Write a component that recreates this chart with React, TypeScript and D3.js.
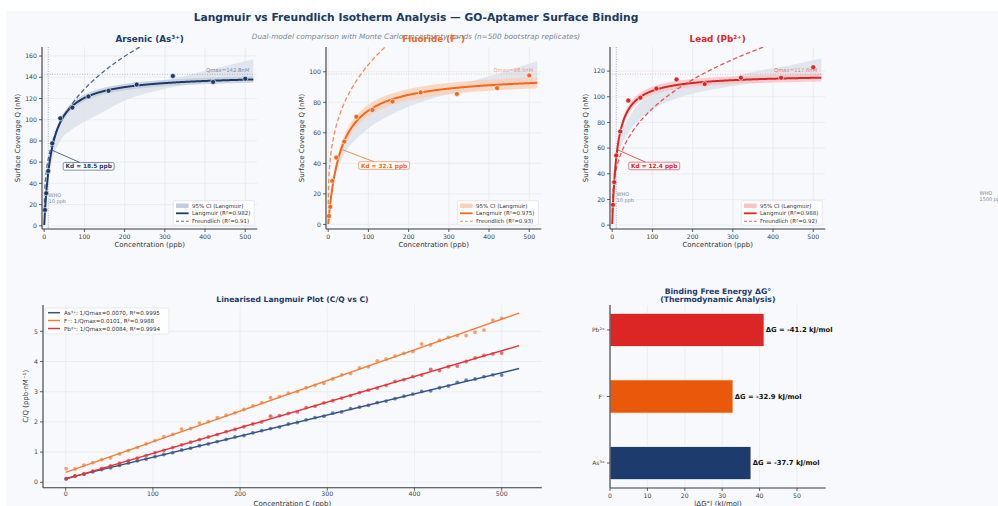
import React from 'react';
import * as d3 from 'd3';

const W = 998;
const H = 506;
const FONT = '"DejaVu Sans", sans-serif';

// ---------- Isotherm data (top row) ----------
const panelTitles = ['Arsenic (As³⁺)', 'Fluoride (F⁻)', 'Lead (Pb²⁺)'];
const ionLabels = ['As³⁺', 'F⁻', 'Pb²⁺'];
const isoC = [2, 5, 10, 20, 40, 70, 110, 160, 230, 320, 420, 500];
const qAs = [15.0, 30.7, 51.7, 77.7, 101.3, 111.4, 121.9, 127.2, 133.1, 141.2, 135.6, 138.6];
const qF = [5.5, 11.5, 28.5, 43.8, 54.3, 70.5, 75.0, 80.5, 86.5, 85.5, 89.3, 97.6];
const qPb = [15.8, 33.5, 54.3, 73.0, 97.1, 99.3, 106.4, 113.5, 109.9, 114.8, 114.8, 123.0];
const isoQ = [qAs, qF, qPb];
const qmax = [142.8, 98.5, 117.6];
const kd = [18.5, 32.1, 12.4];
const kf = [30.9, 26.3, 20.8];
const nInv = [0.31, 0.30, 0.32];
const ciFrac = [0.02, 0.035, 0.025];
const r2Lang = ['0.982', '0.975', '0.988'];
const r2Freu = ['0.91', '0.93', '0.92'];
const whoLimit = [10, 1500, 10];
const whoText = ['10 ppb', '1500 ppb', '10 ppb'];

// Monte Carlo (grey) envelopes
const mcC = [
  [10, 20, 40, 70, 100, 150, 200, 300, 400, 520],
  [15, 20, 40, 70, 100, 150, 240, 360, 450, 520],
  [10, 20, 50, 100, 155, 240, 360, 450, 520],
];
const mcLo = [
  [42, 62, 80, 91, 98, 108, 118, 129, 135, 139.5],
  [30, 34, 46, 56, 63, 71, 81, 88, 91, 93],
  [50, 60, 76, 90, 98, 105, 111, 113, 114],
];
const mcHi = [
  [46, 72, 95, 110, 118, 125, 130, 137, 146, 157],
  [32, 37, 52, 67, 73, 80, 86, 94, 101, 107],
  [56, 68, 88, 102, 107, 111, 120, 125, 130],
];

// ---------- Linearised data (bottom-left) ----------
const linC = [0.5, 10.7, 20.9, 31.1, 41.3, 51.5, 61.7, 71.9, 82.1, 92.2, 102.4, 112.6, 122.8, 133.0, 143.2, 153.4, 163.6, 173.8, 184.0, 194.2, 204.4, 214.6, 224.8, 235.0, 245.2, 255.4, 265.6, 275.7, 285.9, 296.1, 306.3, 316.5, 326.7, 336.9, 347.1, 357.3, 367.5, 377.7, 387.9, 398.1, 408.3, 418.5, 428.7, 438.9, 449.1, 459.3, 469.5, 479.7, 489.9, 500.0];
const linAs = [0.12, 0.21, 0.27, 0.35, 0.42, 0.48, 0.56, 0.64, 0.71, 0.77, 0.85, 0.92, 0.98, 1.07, 1.13, 1.21, 1.27, 1.35, 1.42, 1.50, 1.55, 1.64, 1.71, 1.78, 1.83, 1.93, 1.98, 2.07, 2.14, 2.19, 2.29, 2.33, 2.44, 2.49, 2.55, 2.64, 2.69, 2.77, 2.85, 2.92, 3.01, 3.03, 3.13, 3.19, 3.31, 3.38, 3.42, 3.50, 3.56, 3.55];
const linF = [0.45, 0.44, 0.57, 0.65, 0.75, 0.81, 0.94, 1.05, 1.15, 1.27, 1.38, 1.51, 1.59, 1.76, 1.78, 1.96, 2.01, 2.14, 2.22, 2.30, 2.41, 2.53, 2.64, 2.80, 2.84, 2.95, 3.00, 3.13, 3.21, 3.28, 3.42, 3.56, 3.60, 3.79, 3.83, 4.02, 4.08, 4.18, 4.27, 4.33, 4.58, 4.55, 4.70, 4.80, 4.86, 4.86, 4.97, 5.04, 5.37, 5.43];
const linPb = [0.11, 0.20, 0.28, 0.37, 0.46, 0.54, 0.63, 0.72, 0.80, 0.88, 0.98, 1.06, 1.15, 1.24, 1.33, 1.41, 1.50, 1.58, 1.68, 1.75, 1.84, 1.93, 2.00, 2.19, 2.21, 2.28, 2.33, 2.47, 2.52, 2.63, 2.70, 2.79, 2.87, 2.97, 3.05, 3.12, 3.21, 3.34, 3.40, 3.50, 3.55, 3.74, 3.70, 3.83, 3.85, 4.00, 4.12, 4.20, 4.25, 4.28];
const linY = [linAs, linF, linPb];
const linSlope = [0.0070, 0.01015, 0.0085];
const linIntercept = [0.1296, 0.326, 0.105];
const linLegend = ['As³⁺: 1/Qmax=0.0070, R²=0.9995', 'F⁻: 1/Qmax=0.0101, R²=0.9988', 'Pb²⁺: 1/Qmax=0.0084, R²=0.9994'];

// ---------- Free energy (bottom-right) ----------
const dG = [-37.7, -32.9, -41.2];

// ---------- styles ----------
const colors = ['#1e3a6b', '#ef6a1f', '#dc2626'];
const linColors = ['#34538a', '#f47e38', '#e23434'];
const ciColors = ['#c3ccda', '#fbd0b6', '#f6c4c4'];
const barColors = ['#1d3b6c', '#ea580c', '#dc2626'];
const BG = '#f7f9fc';
const GRID = '#e3e7ed';
const SPINE = '#3a3a3a';
const TICKC = '#444';

const topLefts = [42, 326, 610];
const TOP_W = 215.3;
const TOP_Y0 = 47;
const TOP_Y1 = 229;
const kdDx = [37, 43, 37];

function IsoPanel({ i }: { i: number }) {
  const left = topLefts[i];
  const right = left + TOP_W;
  const qm = qmax[i];
  const k = kd[i];
  const col = colors[i];
  const x = d3.scaleLinear().domain([-5.5, 530]).range([left, right]);
  const y = d3.scaleLinear().domain([-3, qm * 1.18]).range([TOP_Y1, TOP_Y0]);
  const lang = (c: number, a = qm, b = k) => (a * c) / (b + c);
  const cs = d3.range(0.1, 521, 1);
  const lineL = d3.line<number>().x((c) => x(c)).y((c) => y(lang(c)));
  const lineF = d3.line<number>().x((c) => x(c)).y((c) => y(kf[i] * Math.pow(c, nInv[i])));
  const f = ciFrac[i];
  const ciArea = d3
    .area<number>()
    .x((c) => x(c))
    .y0((c) => y(lang(c, qm * (1 - f), k * (1 + 2 * f))))
    .y1((c) => y(lang(c, qm * (1 + f), k * (1 - 2 * f))));
  const mcIdx = d3.range(mcC[i].length);
  const mcArea = d3
    .area<number>()
    .curve(d3.curveMonotoneX)
    .x((j) => x(mcC[i][j]))
    .y0((j) => y(mcLo[i][j]))
    .y1((j) => y(mcHi[i][j]));
  const xt = d3.range(0, 501, 100);
  const yt = d3.range(0, qm * 1.18, 20);
  const clip = `clip-top-${i}`;
  const px = x(k);
  const py = y(qm / 2);
  const bw = 51;
  const bh = 7.6;
  const cx = px + kdDx[i];
  const cy = py + 16.3;
  const ddx = px - cx;
  const ddy = py - cy;
  const t = Math.min(bw / 2 / Math.abs(ddx), bh / 2 / Math.abs(ddy));
  const sx = cx + ddx * t;
  const sy = cy + ddy * t;
  const lx = right - 84;
  const ly = 200.7;
  const who = whoLimit[i];
  const whoY = y(qm * 0.2);
  return (
    <g>
      <defs>
        <clipPath id={clip}>
          <rect x={left} y={TOP_Y0} width={TOP_W} height={TOP_Y1 - TOP_Y0} />
        </clipPath>
      </defs>
      {xt.map((v) => (
        <line key={'gx' + v} x1={x(v)} x2={x(v)} y1={TOP_Y0} y2={TOP_Y1} stroke={GRID} strokeWidth={0.6} />
      ))}
      {yt.map((v) => (
        <line key={'gy' + v} x1={left} x2={right} y1={y(v)} y2={y(v)} stroke={GRID} strokeWidth={0.6} />
      ))}
      <g clipPath={`url(#${clip})`}>
        <path d={mcArea(mcIdx) || ''} fill="#dde2ea" opacity={0.85} />
        <path d={ciArea(cs) || ''} fill={ciColors[i]} opacity={0.8} />
        <line x1={left} x2={right} y1={y(qm)} y2={y(qm)} stroke={col} strokeOpacity={0.35} strokeWidth={0.9} strokeDasharray="1,1.5" />
        {who <= 530 && (
          <line x1={x(who)} x2={x(who)} y1={TOP_Y0} y2={TOP_Y1} stroke="#8a98ae" strokeWidth={0.8} strokeDasharray="1,1.4" />
        )}
        <path d={lineF(cs) || ''} fill="none" stroke={col} strokeOpacity={0.75} strokeWidth={1.3} strokeDasharray="4.5,2.5" />
        <path d={lineL(cs) || ''} fill="none" stroke={col} strokeWidth={2} />
        {isoC.map((c, j) => (
          <circle key={'p' + j} cx={x(c)} cy={y(isoQ[i][j])} r={2.5} fill={col} stroke="#fff" strokeWidth={0.6} />
        ))}
      </g>
      <text x={x(510)} y={y(qm) - 2.5} fontSize={5.3} fill={col} fillOpacity={0.6} textAnchor="end">
        {`Qmax=${qm.toFixed(1)}nM`}
      </text>
      <text x={x(who * 1.08)} y={whoY + 1} fontSize={5} fill="#7d8aa0">WHO</text>
      <text x={x(who * 1.08)} y={whoY + 7} fontSize={5} fill="#7d8aa0">{whoText[i]}</text>
      <line x1={sx} y1={sy} x2={px} y2={py} stroke={col} strokeOpacity={0.75} strokeWidth={1} />
      <rect x={cx - bw / 2} y={cy - bh / 2} width={bw} height={bh} rx={1.5} fill="#fff" stroke={col} strokeOpacity={0.7} strokeWidth={0.8} />
      <text x={cx} y={cy + 2.1} fontSize={5.8} fontWeight="bold" fill={col} textAnchor="middle">
        {`Kd = ${k.toFixed(1)} ppb`}
      </text>
      <line x1={left} x2={left} y1={TOP_Y0} y2={TOP_Y1} stroke={SPINE} strokeWidth={1.1} />
      <line x1={left} x2={right} y1={TOP_Y1} y2={TOP_Y1} stroke={SPINE} strokeWidth={1.1} />
      {xt.map((v) => (
        <g key={'tx' + v}>
          <line x1={x(v)} x2={x(v)} y1={TOP_Y1} y2={TOP_Y1 + 3} stroke={SPINE} strokeWidth={0.8} />
          <text x={x(v)} y={TOP_Y1 + 10.2} fontSize={6.2} fill={TICKC} textAnchor="middle">{v}</text>
        </g>
      ))}
      {yt.map((v) => (
        <g key={'ty' + v}>
          <line x1={left - 3} x2={left} y1={y(v)} y2={y(v)} stroke={SPINE} strokeWidth={0.8} />
          <text x={left - 5} y={y(v) + 2.2} fontSize={6.2} fill={TICKC} textAnchor="end">{v}</text>
        </g>
      ))}
      <text x={(left + right) / 2} y={246.5} fontSize={7} fill="#333" textAnchor="middle">Concentration (ppb)</text>
      <text transform={`translate(${left - 24.2},${(TOP_Y0 + TOP_Y1) / 2}) rotate(-90)`} dy="0.35em" fontSize={7} fill="#333" textAnchor="middle">
        Surface Coverage Q (nM)
      </text>
      <text x={(left + right) / 2} y={42.2} fontSize={8.8} fontWeight="bold" fill={col} textAnchor="middle">
        {panelTitles[i]}
      </text>
      <rect x={lx} y={ly} width={81} height={24.5} rx={1.5} fill="#fff" fillOpacity={0.85} stroke="#d8dce2" strokeWidth={0.6} />
      <rect x={lx + 2.7} y={205.7 - 2.2} width={12.6} height={4.4} fill={ciColors[i]} />
      <line x1={lx + 2.7} x2={lx + 15.3} y1={213.3} y2={213.3} stroke={col} strokeWidth={1.8} />
      <line x1={lx + 2.7} x2={lx + 15.3} y1={221.3} y2={221.3} stroke={col} strokeOpacity={0.75} strokeWidth={1.1} strokeDasharray="3,2" />
      <text x={lx + 18.7} y={205.7 + 2} fontSize={5.5} fill="#333">95% CI (Langmuir)</text>
      <text x={lx + 18.7} y={213.3 + 2} fontSize={5.5} fill="#333">{`Langmuir (R²=${r2Lang[i]})`}</text>
      <text x={lx + 18.7} y={221.3 + 2} fontSize={5.5} fill="#333">{`Freundlich (R²=${r2Freu[i]})`}</text>
    </g>
  );
}

function LinPanel() {
  const L = 43;
  const R = 541.8;
  const T = 305;
  const B = 487.7;
  const x = d3.scaleLinear().domain([-26, 546]).range([L, R]);
  const y = d3.scaleLinear().domain([-0.179, 5.871]).range([B, T]);
  const xt = d3.range(0, 501, 100);
  const yt = d3.range(0, 6, 1);
  const ends = [0, 520];
  return (
    <g>
      {xt.map((v) => (
        <line key={'gx' + v} x1={x(v)} x2={x(v)} y1={T} y2={B} stroke={GRID} strokeWidth={0.6} />
      ))}
      {yt.map((v) => (
        <line key={'gy' + v} x1={L} x2={R} y1={y(v)} y2={y(v)} stroke={GRID} strokeWidth={0.6} />
      ))}
      {[0, 1, 2].map((s) => {
        const ln = d3.line<number>().x((c) => x(c)).y((c) => y(linIntercept[s] + linSlope[s] * c));
        return (
          <g key={'s' + s}>
            {linC.map((c, j) => (
              <circle key={j} cx={x(c)} cy={y(linY[s][j])} r={1.9} fill={linColors[s]} fillOpacity={0.7} />
            ))}
            <path d={ln(ends) || ''} fill="none" stroke={linColors[s]} strokeWidth={1.4} />
          </g>
        );
      })}
      <line x1={L} x2={L} y1={T} y2={B} stroke={SPINE} strokeWidth={1.1} />
      <line x1={L} x2={R} y1={B} y2={B} stroke={SPINE} strokeWidth={1.1} />
      {xt.map((v) => (
        <g key={'tx' + v}>
          <line x1={x(v)} x2={x(v)} y1={B} y2={B + 3} stroke={SPINE} strokeWidth={0.8} />
          <text x={x(v)} y={B + 8.2} fontSize={6.2} fill={TICKC} textAnchor="middle">{v}</text>
        </g>
      ))}
      {yt.map((v) => (
        <g key={'ty' + v}>
          <line x1={L - 3} x2={L} y1={y(v)} y2={y(v)} stroke={SPINE} strokeWidth={0.8} />
          <text x={L - 5} y={y(v) + 2.2} fontSize={6.2} fill={TICKC} textAnchor="end">{v}</text>
        </g>
      ))}
      <text x={(L + R) / 2} y={302} fontSize={7.6} fontWeight="bold" fill="#1e3a6b" textAnchor="middle">
        Linearised Langmuir Plot (C/Q vs C)
      </text>
      <text x={(L + R) / 2} y={506} fontSize={7} fill="#333" textAnchor="middle">Concentration C (ppb)</text>
      <text transform={`translate(${26},${(T + B) / 2}) rotate(-90)`} dy="0.35em" fontSize={7} fill="#333" textAnchor="middle">
        C/Q (ppb·nM⁻¹)
      </text>
      <rect x={45} y={308} width={124} height={26} rx={1.5} fill="#fff" fillOpacity={0.85} stroke="#d8dce2" strokeWidth={0.6} />
      {[0, 1, 2].map((s) => {
        const ry = [312.7, 320.5, 328.5][s];
        return (
          <g key={'lg' + s}>
            <line x1={48} x2={60} y1={ry} y2={ry} stroke={linColors[s]} strokeWidth={1.5} />
            <text x={64} y={ry + 2} fontSize={5.6} fill="#333">{linLegend[s]}</text>
          </g>
        );
      })}
    </g>
  );
}

function BarPanel() {
  const L = 610;
  const R = 825.7;
  const T = 305;
  const B = 488;
  const maxAbs = d3.max(dG, (d) => Math.abs(d)) as number;
  const x = d3.scaleLinear().domain([0, maxAbs * 1.4]).range([L, R]);
  const y = d3.scaleLinear().domain([-0.375, 2.375]).range([B, T]);
  const xt = d3.range(0, 51, 10);
  const hh = y(0) - y(0.25);
  return (
    <g>
      {xt.map((v) => (
        <line key={'gx' + v} x1={x(v)} x2={x(v)} y1={T} y2={B} stroke={GRID} strokeWidth={0.6} />
      ))}
      {dG.map((g, s) => (
        <g key={'b' + s}>
          <rect x={x(0)} y={y(s) - hh} width={x(Math.abs(g)) - x(0)} height={2 * hh} fill={barColors[s]} stroke="#fff" strokeWidth={0.8} />
          <text x={x(Math.abs(g)) + 1.7} y={y(s) + 2.4} fontSize={6.8} fontWeight="bold" fill="#111">
            {`ΔG = ${g.toFixed(1)} kJ/mol`}
          </text>
          <line x1={L - 3} x2={L} y1={y(s)} y2={y(s)} stroke={SPINE} strokeWidth={0.8} />
          <text x={L - 5} y={y(s) + 2.1} fontSize={6} fill={TICKC} textAnchor="end">{ionLabels[s]}</text>
        </g>
      ))}
      <line x1={L} x2={L} y1={T} y2={B} stroke={SPINE} strokeWidth={1.1} />
      <line x1={L} x2={R} y1={B} y2={B} stroke={SPINE} strokeWidth={1.1} />
      {xt.map((v) => (
        <g key={'tx' + v}>
          <line x1={x(v)} x2={x(v)} y1={B} y2={B + 3} stroke={SPINE} strokeWidth={0.8} />
          <text x={x(v)} y={B + 9.5} fontSize={6.2} fill={TICKC} textAnchor="middle">{v}</text>
        </g>
      ))}
      <text x={(L + R) / 2} y={293.8} fontSize={7.7} fontWeight="bold" fill="#1e3a6b" textAnchor="middle">
        Binding Free Energy ΔG°
      </text>
      <text x={(L + R) / 2} y={302.2} fontSize={7.7} fontWeight="bold" fill="#1e3a6b" textAnchor="middle">
        (Thermodynamic Analysis)
      </text>
      <text x={(L + R) / 2} y={506} fontSize={7} fill="#333" textAnchor="middle">|ΔG°| (kJ/mol)</text>
    </g>
  );
}

export default function App() {
  return (
    <svg width={W} height={H} style={{ position: 'absolute', left: 0, top: 0, fontFamily: FONT }}>
      <rect x={0} y={0} width={W} height={H} fill="#ffffff" />
      <rect x={6} y={11} width={W - 6} height={H - 11} fill={BG} />
      <text x={416} y={21} fontSize={10.7} fontWeight="bold" fill="#1e3a5f" textAnchor="middle">
        Langmuir vs Freundlich Isotherm Analysis — GO-Aptamer Surface Binding
      </text>
      <text x={416} y={39} fontSize={7.3} fontStyle="italic" fill="#7a879a" textAnchor="middle">
        Dual-model comparison with Monte Carlo uncertainty bands (n=500 bootstrap replicates)
      </text>
      {[0, 1, 2].map((i) => (
        <IsoPanel key={i} i={i} />
      ))}
      <LinPanel />
      <BarPanel />
    </svg>
  );
}
